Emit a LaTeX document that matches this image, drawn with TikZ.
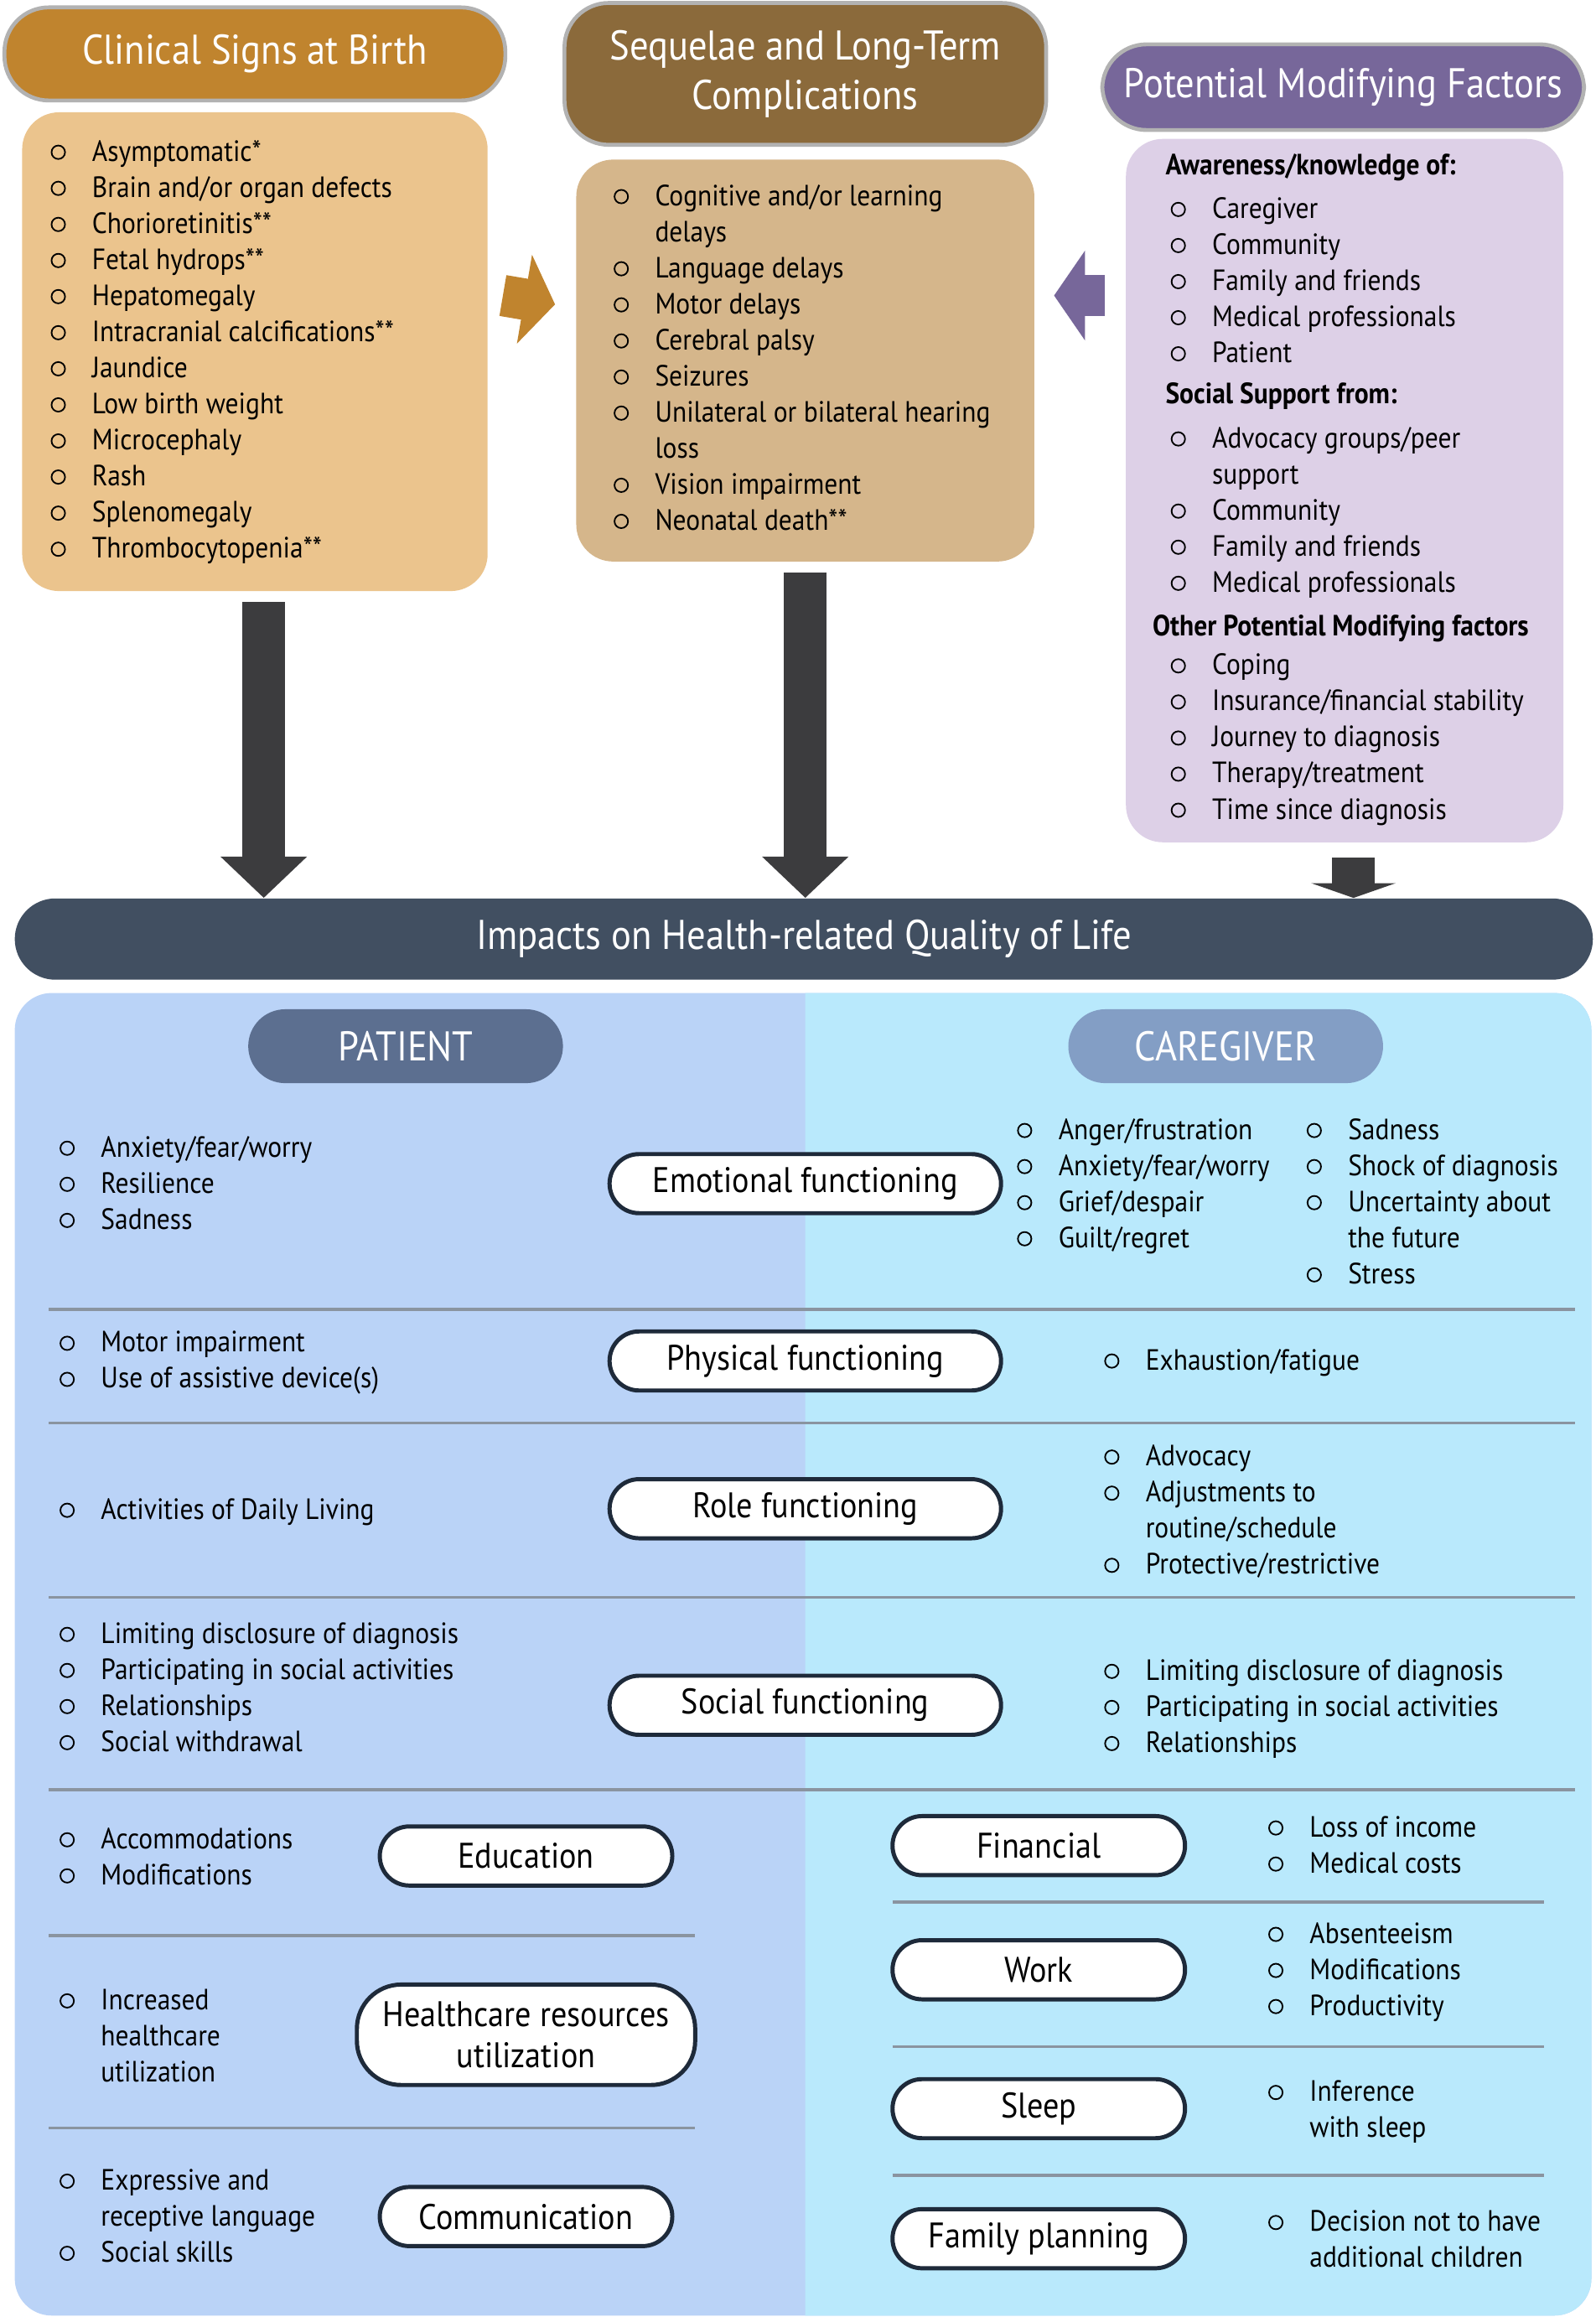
\documentclass[tikz,border=0pt]{standalone}
\usepackage{fontspec}
\setmainfont{PT Sans}[FakeStretch=0.9]
\usepackage{xcolor}
\definecolor{clinhd}{HTML}{C0842E}
\definecolor{clinbg}{HTML}{EBC48D}
\definecolor{seqhd}{HTML}{8B6A3B}
\definecolor{seqbg}{HTML}{D5B68B}
\definecolor{modhd}{HTML}{77679A}
\definecolor{modbg}{HTML}{DDD0E7}
\definecolor{impact}{HTML}{414F61}
\definecolor{patbg}{HTML}{BAD3F7}
\definecolor{carbg}{HTML}{B9E9FC}
\definecolor{pathd}{HTML}{5C6F90}
\definecolor{carhd}{HTML}{839EC5}
\definecolor{pilline}{HTML}{1E2A3A}
\definecolor{sepline}{HTML}{8A94A0}
\definecolor{downarr}{HTML}{3C3C3E}
\usetikzlibrary{positioning,fit,calc,arrows.meta}
\newcommand\bu{\tikz[baseline=-0.6ex]\draw[line width=0.6pt] (0,0) circle (2.6pt);}
\newcommand\lst[1]{\begin{tabular}[t]{@{}p{0.56cm}@{}l@{}}#1\end{tabular}}
\newcommand\hd[1]{\multicolumn{2}{@{}l@{}}{\hspace{-2pt}\bfseries #1}}
\tikzset{
  box/.style={rounded corners=0.5cm,inner sep=0pt},
  hdr/.style={draw=white!70!black,line width=1.5pt,rounded corners=0.6cm,inner sep=0pt},
  hdt/.style={text=white,font=\fontsize{16}{19}\selectfont,align=center},
  lst/.style={anchor=base west,inner sep=0pt,font=\fontsize{11.3}{13.9}\selectfont},
  pill/.style={draw=pilline,line width=1.6pt,fill=white,rounded corners=0.4cm,
    inner sep=0pt,font=\fontsize{13.7}{16}\selectfont,align=center},
  lab/.style={rounded corners=0.5cm,inner sep=0pt},
  sep/.style={draw=sepline,line width=1.2pt},
  down/.style={draw=downarr,line width=0.58cm,-{Triangle[width=1.14cm,length=0.56cm]}},
}
\begin{document}
\begin{tikzpicture}[x=0.02cm,y=-0.02cm]
\useasboundingbox (0,0) rectangle (1080,1568);

% top three columns
\node[hdr,fill=clinhd,fit={(3,5)(342,68)}] (clinhd) {};
\node[hdt] at (clinhd) {Clinical Signs at Birth};
\node[box,fill=clinbg,fit={(15,76)(330,400)}] (clin) {};
\node[lst] (clinlst) at (34,109) {\lst{
\bu & Asymptomatic*\\ \bu & Brain and/or organ defects\\ \bu & Chorioretinitis**\\
\bu & Fetal hydrops**\\ \bu & Hepatomegaly\\ \bu & Intracranial calcifications**\\
\bu & Jaundice\\ \bu & Low birth weight\\ \bu & Microcephaly\\ \bu & Rash\\
\bu & Splenomegaly\\ \bu & Thrombocytopenia**}};

\node[hdr,fill=seqhd,fit={(382,2)(708,98)}] (seqhd) {};
\node[hdt] at (seqhd) {Sequelae and Long-Term\\Complications};
\node[box,fill=seqbg,fit={(390,108)(700,380)}] (seq) {};
\node[lst] (seqlst) at (415,139) {\lst{
\bu & Cognitive and/or learning\\ & delays\\ \bu & Language delays\\ \bu & Motor delays\\
\bu & Cerebral palsy\\ \bu & Seizures\\ \bu & Unilateral or bilateral hearing\\ & loss\\
\bu & Vision impairment\\ \bu & Neonatal death**}};

\node[hdr,fill=modhd,fit={(746,30)(1072,88)}] (modhd) {};
\node[hdt] at (modhd) {Potential Modifying Factors};
\node[box,fill=modbg,fit={(762,94)(1058,570)}] (mod) {};
\node[lst] (modlst) at (792,118) {\lst{
\hd{Awareness/knowledge of:}\\[3pt] \bu & Caregiver\\ \bu & Community\\ \bu & Family and friends\\
\bu & Medical professionals\\ \bu & Patient\\[2pt]
\hd{Social Support from:}\\[3pt] \bu & Advocacy groups/peer\\ & support\\ \bu & Community\\
\bu & Family and friends\\ \bu & Medical professionals\\[3pt]
\hd{\hspace{-5pt}Other Potential Modifying factors}\\[1pt] \bu & Coping\\ \bu & Insurance/financial stability\\
\bu & Journey to diagnosis\\ \bu & Therapy/treatment\\ \bu & Time since diagnosis}};

% side arrows
\draw[clinhd,line width=0.56cm,-{Triangle[width=1.2cm,length=0.42cm]}]
  ($(clin.east)+(10,-38)$) -- ($(seq.west)+(-14,-38)$);
\draw[modhd,line width=0.56cm,-{Triangle[width=1.2cm,length=0.42cm]}]
  ($(mod.west)+(-14,-132)$) -- ($(seq.east)+(13,-44)$);

% banner
\node[box,fill=impact,rounded corners=0.55cm,fit={(10,608)(1078,663)}] (impact) {};
\node[hdt] at (impact) {Impacts on Health-related Quality of Life};

\draw[down] ($(clin.south)+(6,7)$) -- ($(clin.south |- impact.north)+(6,0)$);
\draw[down] ($(seq.south)+(0,7)$) -- (seq.south |- impact.north);
\draw[down,-{Triangle[width=1.14cm,length=0.2cm]}] ($(mod.south)+(6,10)$) -- ($(mod.south |- impact.north)+(6,0)$);

% bottom panel
\fill[patbg,rounded corners=0.5cm] (10,672) rectangle (1077,1567);
\begin{scope}
\clip (545,660) rectangle (1090,1580);
\fill[carbg,rounded corners=0.5cm] (10,672) rectangle (1077,1567);
\end{scope}
\node[lab,fill=pathd,fit={(168,683)(381,733)}] (pat) {};
\node[hdt] at (pat) {PATIENT};
\node[lab,fill=carhd,fit={(723,683)(936,733)}] (car) {};
\node[hdt] at (car) {CAREGIVER};

% separators
\foreach \yy in {886,963,1081,1211} \draw[sep] (33,\yy) -- (1066,\yy);
\foreach \yy in {1310,1440} \draw[sep] (33,\yy) -- (470,\yy);
\foreach \yy in {1287,1385,1472} \draw[sep] (604,\yy) -- (1045,\yy);

% domains
\node[pill,minimum width=5.3cm,minimum height=0.8cm] (emo) at (545,801) {Emotional functioning};
\node[pill,minimum width=5.3cm,minimum height=0.8cm] (phy) at (545,921) {Physical functioning};
\node[pill,minimum width=5.3cm,minimum height=0.8cm] (role) at (545,1021) {Role functioning};
\node[pill,minimum width=5.3cm,minimum height=0.8cm] (soc) at (545,1154) {Social functioning};
\node[pill,minimum width=3.96cm,minimum height=0.8cm] (edu) at (356,1256) {Education};
\node[pill,minimum width=4.58cm,minimum height=1.36cm,rounded corners=0.6cm] (hcu) at (356,1377) {Healthcare resources\\utilization};
\node[pill,minimum width=3.96cm,minimum height=0.8cm] (com) at (356,1500) {Communication};
\node[pill,minimum width=3.96cm,minimum height=0.8cm] (fin) at (703,1249) {Financial};
\node[pill,minimum width=3.96cm,minimum height=0.8cm] (work) at (703,1333) {Work};
\node[pill,minimum width=3.96cm,minimum height=0.8cm] (sleep) at (703,1427) {Sleep};
\node[pill,minimum width=3.96cm,minimum height=0.8cm] (fam) at (703,1515) {Family planning};

% patient items
\node[lst] (emop) at (40,783) {\lst{\bu & Anxiety/fear/worry\\ \bu & Resilience\\ \bu & Sadness}};
\node[lst] (phyp) at (40,915) {\lst{\bu & Motor impairment\\ \bu & Use of assistive device(s)}};
\node[lst] (rolep) at (40,1028) {\lst{\bu & Activities of Daily Living}};
\node[lst] (socp) at (40,1112) {\lst{\bu & Limiting disclosure of diagnosis\\ \bu & Participating in social activities\\
  \bu & Relationships\\ \bu & Social withdrawal}};
\node[lst] (edup) at (40,1251) {\lst{\bu & Accommodations\\ \bu & Modifications}};
\node[lst] (hcup) at (40,1360) {\lst{\bu & Increased\\ & healthcare\\ & utilization}};
\node[lst] (comp) at (40,1482) {\lst{\bu & Expressive and\\ & receptive language\\ \bu & Social skills}};

% caregiver items
\node[lst] (emoc1) at (688,771) {\lst{\bu & Anger/frustration\\ \bu & Anxiety/fear/worry\\ \bu & Grief/despair\\ \bu & Guilt/regret}};
\node[lst] (emoc2) at (884,771) {\lst{\bu & Sadness\\ \bu & Shock of diagnosis\\ \bu & Uncertainty about\\ & the future\\ \bu & Stress}};
\node[lst] (phyc) at (747,927) {\lst{\bu & Exhaustion/fatigue}};
\node[lst] (rolec) at (747,992) {\lst{\bu & Advocacy\\ \bu & Adjustments to\\ & routine/schedule\\ \bu & Protective/restrictive}};
\node[lst] (socc) at (747,1137) {\lst{\bu & Limiting disclosure of diagnosis\\ \bu & Participating in social activities\\ \bu & Relationships}};
\node[lst] (finc) at (858,1243) {\lst{\bu & Loss of income\\ \bu & Medical costs}};
\node[lst] (workc) at (858,1315) {\lst{\bu & Absenteeism\\ \bu & Modifications\\ \bu & Productivity}};
\node[lst] (sleepc) at (858,1422) {\lst{\bu & Inference\\ & with sleep}};
\node[lst] (famc) at (858,1510) {\lst{\bu & Decision not to have\\ & additional children}};
\end{tikzpicture}
\end{document}
